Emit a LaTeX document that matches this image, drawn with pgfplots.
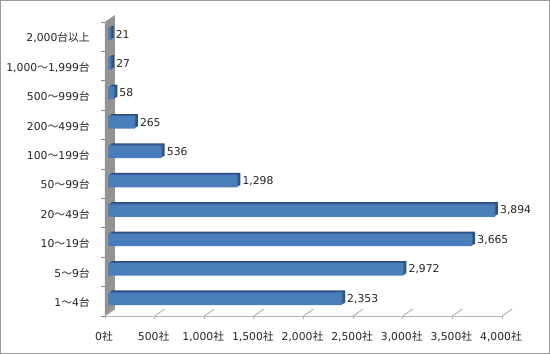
\documentclass[border=0pt]{standalone}
\usepackage{fontspec}
\setmainfont{DejaVu Sans}
\newfontfamily\cjk{Noto Sans CJK JP}
\usepackage{pgfplots}
\usepackage{pgfplotstable}
\pgfplotsset{compat=1.18}
\definecolor{barFace}{HTML}{4A7EBB}
\definecolor{barTop}{HTML}{375E93}
\definecolor{barEnd}{HTML}{2C4C7A}
\definecolor{wallGray}{HTML}{939393}
\definecolor{gridGray}{HTML}{B4B4B4}
\definecolor{txt}{HTML}{262626}
\pgfplotstableread{
y x
0 2353
1 2972
2 3665
3 3894
4 1298
5 536
6 265
7 58
8 27
9 21
}\data
\begin{document}
\fontsize{10.8}{12}\selectfont
\begin{tikzpicture}[x=1pt,y=1pt]
\useasboundingbox (0,0) rectangle (550,354);
\fill[white] (0,0) rectangle (550,354);
\draw[gray!80, line width=1.2pt] (0.6,0.6) rectangle (549.4,353.4);
% back wall with gridlines
\begin{axis}[
  at={(115pt,45pt)}, anchor=south west,
  scale only axis, width=397pt, height=294pt,
  xmin=0, xmax=4000, ymin=-0.5, ymax=9.5,
  axis lines=none, xtick={0,500,...,4000}, ytick=\empty,
  xmajorgrids, major grid style={gridGray, line width=1pt},
  clip=false,
]
\addplot[draw=none] coordinates {(0,0)};
\end{axis}
% front axis
\begin{axis}[
  at={(105pt,38pt)}, anchor=south west,
  scale only axis, width=397pt, height=294pt,
  xmin=0, xmax=4000, ymin=-0.5, ymax=9.5,
  clip=false,
  axis x line*=bottom, axis y line*=left,
  x axis line style={gridGray, line width=0.8pt, -},
  y axis line style={gray, line width=0.8pt, -},
  xtick={0,500,...,4000}, scaled x ticks=false,
  xtick style={gridGray, line width=0.8pt},
  x tick label style={font=\fontsize{10.8}{12}\selectfont, text=txt, anchor=base, inner sep=0pt, yshift=-21pt, xshift=-1pt},
  xticklabel={\pgfmathprintnumber{\tick}{\cjk 社}},
  /pgf/number format/assume math mode=true,
  ytick={0,...,9},
  yticklabels={1{\cjk ～}4{\cjk 台},5{\cjk ～}9{\cjk 台},10{\cjk ～}19{\cjk 台},20{\cjk ～}49{\cjk 台},50{\cjk ～}99{\cjk 台},100{\cjk ～}199{\cjk 台},200{\cjk ～}499{\cjk 台},500{\cjk ～}999{\cjk 台},{1,000{\cjk ～}1,999{\cjk 台}},{2,000{\cjk 台以上}}},
  y tick label style={font=\fontsize{10.8}{12}\selectfont, text=txt, anchor=east, inner sep=0pt, xshift=-12pt, yshift=-1pt},
  major y tick style={draw=none},
  minor ytick={-0.5,0.5,...,9.5},
  minor y tick style={gray, line width=0.8pt},
  tick align=outside,
  major tick length=3pt, minor tick length=4pt,
]
% left wall and floor
\fill[wallGray] (axis cs:0,-0.5) -- (axis cs:0,9.5) -- ++(10pt,7pt) -- ([xshift=10pt,yshift=7pt]axis cs:0,-0.5) -- cycle;
\pgfplotsinvokeforeach{500,1000,...,4000}{
  \draw[gridGray, line width=1pt] (axis cs:#1,-0.5) -- ++(10pt,7pt);
}
\draw[gridGray, line width=1pt] (axis cs:0,-0.5) -- ++(10pt,7pt);
% bars (3D effect)
\addplot[xbar, bar width=12.5pt, fill=barEnd, draw=none, xshift=6.5pt, yshift=4.6pt] table[x=x,y=y] {\data};
\addplot[xbar, bar width=12.5pt, fill=barTop, draw=none, xshift=5pt, yshift=3.6pt] table[x=x,y=y] {\data};
\addplot[xbar, bar width=12.5pt, fill=barFace, draw=none, xshift=3.5pt, yshift=2.5pt,
  point meta=x,
  nodes near coords={\pgfmathprintnumber[assume math mode=true]{\pgfplotspointmeta}},
  every node near coord/.append style={font=\fontsize{10.8}{12}\selectfont, text=txt, anchor=west, inner sep=0pt, xshift=5pt},
] table[x=x,y=y] {\data};
\end{axis}
\end{tikzpicture}
\end{document}
